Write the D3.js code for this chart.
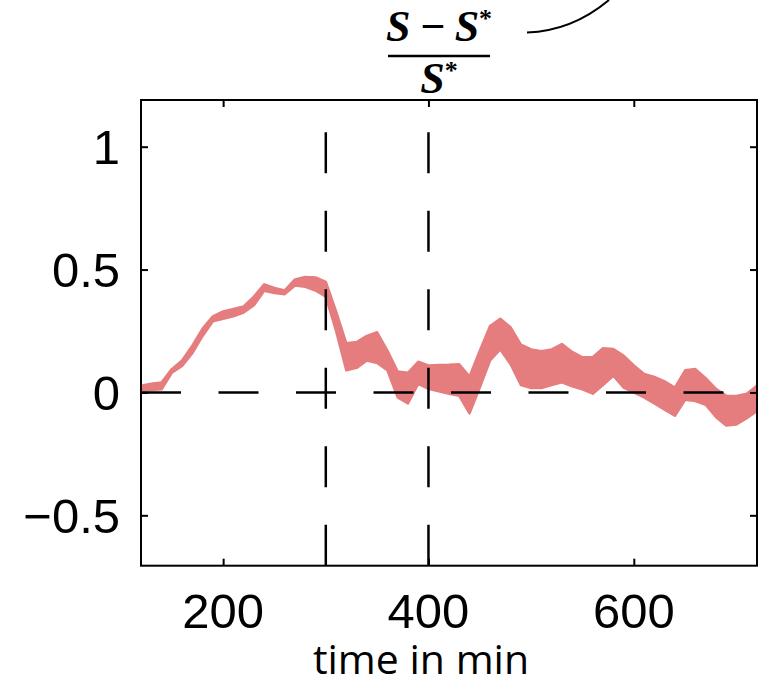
<!DOCTYPE html>
<html>
<head>
<meta charset="utf-8">
<script src="https://cdn.jsdelivr.net/npm/d3@7"></script>
<style>
  body { margin: 0; background: #fff; }
  svg { display: block; }
  .tick-label { font-family: "Liberation Sans", Arial, sans-serif; font-size: 49px; fill: #000; }
</style>
</head>
<body>
<div id="chart"></div>
<script>
// time axis (min) and the band (upper / lower edge of (S - S*)/S*)
var times = [120, 130, 140, 150, 160, 170, 180, 190, 200, 210,
             220, 230, 240, 250, 260, 270, 280, 290, 300, 310,
             320, 330, 340, 350, 360, 370, 380, 390, 400, 410,
             420, 430, 440, 450, 460, 470, 480, 490, 500, 510,
             520, 530, 540, 550, 560, 570, 580, 590, 600, 610,
             620, 630, 640, 650, 660, 670, 680, 690, 700, 710, 720];
var upper = [0.027, 0.035, 0.04, 0.095, 0.13, 0.19, 0.26, 0.31, 0.33, 0.34,
             0.35, 0.39, 0.44, 0.425, 0.415, 0.46, 0.47, 0.468, 0.45, 0.33,
             0.20, 0.205, 0.23, 0.245, 0.17, 0.085, 0.08, 0.125, 0.11, 0.112,
             0.113, 0.115, 0.065, 0.17, 0.27, 0.30, 0.265, 0.195, 0.175, 0.168,
             0.175, 0.197, 0.165, 0.143, 0.143, 0.18, 0.177, 0.15, 0.11, 0.075,
             0.063, 0.045, 0.02, 0.09, 0.095, 0.058, 0.015, -0.014, -0.014, -0.005, 0.027];
var lower = [0.007, 0.01, 0.013, 0.08, 0.108, 0.16, 0.23, 0.29, 0.30, 0.31,
             0.325, 0.355, 0.414, 0.405, 0.40, 0.435, 0.43, 0.415, 0.39, 0.25,
             0.09, 0.10, 0.13, 0.12, 0.09, -0.02, -0.045, 0.035, 0.015, 0.005,
             -0.005, -0.014, -0.085, 0.02, 0.13, 0.175, 0.115, 0.03, 0.018, 0.018,
             0.03, 0.041, 0.025, 0.013, -0.005, 0.03, 0.068, 0.02, 0.0, -0.02,
             -0.045, -0.07, -0.095, -0.03, -0.035, -0.05, -0.10, -0.135, -0.13, -0.105, -0.075];

var xTicks = [200, 400, 600];
var yTicks = [-0.5, 0, 0.5, 1];
var yTickLabels = ["\u22120.5", "0", "0.5", "1"];
var markerTimes = [300, 400];   // vertical dashed lines

function drawChart() {
  var width = 761, height = 686;
  var margin = {left: 141, right: 4, top: 100, bottom: 120.3};
  var x0 = margin.left, x1 = width - margin.right;
  var y0 = margin.top, y1 = height - margin.bottom;

  var svg = d3.select("#chart").append("svg")
      .attr("width", width)
      .attr("height", height);

  var x = d3.scaleLinear().domain([120, 720]).range([x0, x1]);
  var y = d3.scaleLinear().domain([-0.705, 1.19]).range([y1, y0]);

  var band = times.map(function(t, i) { return {t: t, hi: upper[i], lo: lower[i]}; });

  // clip so nothing spills past the box
  svg.append("clipPath").attr("id", "plotclip")
    .append("rect")
      .attr("x", x0).attr("y", y0)
      .attr("width", x1 - x0).attr("height", y1 - y0);

  var plot = svg.append("g").attr("clip-path", "url(#plotclip)");

  // shaded band
  var area = d3.area()
      .x(function(d) { return x(d.t); })
      .y0(function(d) { return y(d.lo); })
      .y1(function(d) { return y(d.hi); });

  plot.append("path")
      .datum(band)
      .attr("d", area)
      .attr("fill", "#e57d7e")
      .attr("stroke", "#e57d7e")
      .attr("stroke-width", 2.5)
      .attr("stroke-linejoin", "round");

  // dashed zero line
  plot.append("line")
      .attr("x1", x(120)).attr("x2", x(720))
      .attr("y1", y(0)).attr("y2", y(0))
      .attr("stroke", "#000")
      .attr("stroke-width", 2.5)
      .attr("stroke-dasharray", "40,37.5");

  // dashed vertical markers, drawn bottom to top
  plot.selectAll(".marker")
    .data(markerTimes)
    .enter().append("line")
      .attr("class", "marker")
      .attr("x1", function(d) { return x(d); })
      .attr("x2", function(d) { return x(d); })
      .attr("y1", y(-0.705)).attr("y2", y(1.19))
      .attr("stroke", "#000")
      .attr("stroke-width", 2.5)
      .attr("stroke-dasharray", "41,37.5");

  // axes: inward ticks on all four sides, box style
  var tickLen = 7;
  var xAxisB = d3.axisBottom(x).tickValues(xTicks).tickSizeInner(-tickLen).tickSizeOuter(0).tickFormat("");
  var xAxisT = d3.axisTop(x).tickValues(xTicks).tickSizeInner(-tickLen).tickSizeOuter(0).tickFormat("");
  var yAxisL = d3.axisLeft(y).tickValues(yTicks).tickSizeInner(-tickLen).tickSizeOuter(0).tickFormat("");
  var yAxisR = d3.axisRight(y).tickValues(yTicks).tickSizeInner(-tickLen).tickSizeOuter(0).tickFormat("");

  svg.append("g").attr("transform", "translate(0," + y1 + ")").call(xAxisB);
  svg.append("g").attr("transform", "translate(0," + y0 + ")").call(xAxisT);
  svg.append("g").attr("transform", "translate(" + x0 + ",0)").call(yAxisL);
  svg.append("g").attr("transform", "translate(" + x1 + ",0)").call(yAxisR);

  svg.selectAll(".domain").remove();
  svg.selectAll(".tick line").attr("stroke", "#000").attr("stroke-width", 2);

  svg.append("rect")
      .attr("x", x0).attr("y", y0)
      .attr("width", x1 - x0).attr("height", y1 - y0)
      .attr("fill", "none")
      .attr("stroke", "#000")
      .attr("stroke-width", 2);

  // tick labels
  svg.selectAll(".xlab")
    .data(xTicks)
    .enter().append("text")
      .attr("class", "tick-label")
      .attr("x", function(d) { return x(d); })
      .attr("y", 628)
      .attr("text-anchor", "middle")
      .text(function(d) { return d; });

  svg.selectAll(".ylab")
    .data(yTicks)
    .enter().append("text")
      .attr("class", "tick-label")
      .attr("x", 120)
      .attr("y", function(d) { return y(d); })
      .attr("dy", "0.36em")
      .attr("text-anchor", "end")
      .text(function(d, i) { return yTickLabels[i]; });

  // x axis title
  svg.append("text")
      .attr("x", 421)
      .attr("y", 674)
      .attr("text-anchor", "middle")
      .style("font-family", "'Open Sans', sans-serif")
      .style("font-size", "41px")
      .text("time in min");

  // fraction title (S - S*)/S*
  var frac = svg.append("g")
      .style("font-family", "'Liberation Serif', 'DejaVu Serif', serif")
      .style("font-weight", "bold")
      .style("font-style", "italic");

  var num = frac.append("text")
      .attr("x", 439).attr("y", 41)
      .attr("text-anchor", "middle")
      .style("font-size", "44px");
  num.append("tspan").text("S\u2009\u2212\u2009S");
  num.append("tspan").attr("dy", -14).style("font-size", "26px").style("font-style", "normal").text("*");

  frac.append("line")
      .attr("x1", 388).attr("x2", 490)
      .attr("y1", 56).attr("y2", 56)
      .attr("stroke", "#000")
      .attr("stroke-width", 2.5);

  var den = frac.append("text")
      .attr("x", 439).attr("y", 93)
      .attr("text-anchor", "middle")
      .style("font-size", "44px");
  den.append("tspan").text("S");
  den.append("tspan").attr("dy", -14).style("font-size", "26px").style("font-style", "normal").text("*");

  // annotation curve leading off to the upper right
  var curve = d3.path();
  curve.moveTo(527, 32.5);
  curve.quadraticCurveTo(572, 31, 609, 0);
  svg.append("path")
      .attr("d", curve.toString())
      .attr("fill", "none")
      .attr("stroke", "#000")
      .attr("stroke-width", 2);
}

drawChart();
</script>
</body>
</html>
